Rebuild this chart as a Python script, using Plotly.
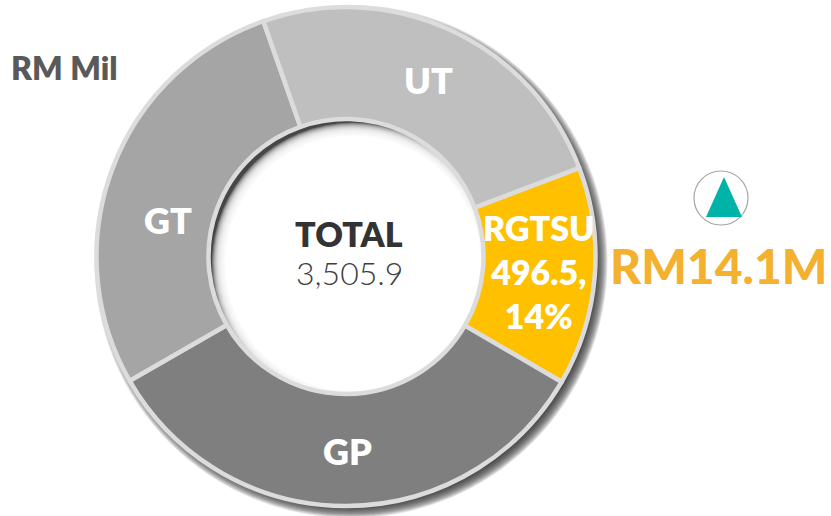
import plotly.graph_objects as go

categories = ["RGTSU", "GP", "GT", "UT"]
values = [496.5, 1168.0, 979.0, 862.4]
colors = ["#FFC000", "#7F7F7F", "#A5A5A5", "#BFBFBF"]
slice_labels = ["RGTSU<br>496.5,<br>14%", "GP", "GT", "UT"]
total_label = "3,505.9"
change_label = "RM14.1M"
unit_label = "RM Mil"

W, H = 831, 516
CX, CY, R, HOLE_R = 346, 256.5, 249.5, 137.5
FONT = "Lato"


def circle(cx, cy, r, fill):
    return dict(type="circle", xref="x", yref="y", x0=cx - r, x1=cx + r, y0=cy - r, y1=cy + r,
                fillcolor=fill, line=dict(width=0), layer="below")


SHADOW = 5
HOLE_SHADOW = 7
BLUR = 6
shapes = []
for k in range(BLUR, -BLUR - 1, -1):
    shapes.append(circle(CX + SHADOW, CY + SHADOW, R + 1 + k, "rgba(40,40,40,0.13)"))
shapes.append(circle(CX, CY, HOLE_R + 1, "rgb(70,70,70)"))
for k in range(BLUR, -BLUR - 1, -1):
    shapes.append(circle(CX + HOLE_SHADOW, CY + HOLE_SHADOW, HOLE_R - 2.5 + k, "rgba(255,255,255,0.25)"))
shapes.append(circle(CX + HOLE_SHADOW, CY + HOLE_SHADOW, HOLE_R - 2.5 - BLUR - 1, "white"))
shapes.append(dict(type="circle", xref="x", yref="y", x0=694, x1=748, y0=171, y1=225,
                   fillcolor="white", line=dict(color="#A6A6A6", width=1.2), layer="above"))
shapes.append(dict(type="path", xref="x", yref="y", path="M724,177 L706,217 L742,217 Z",
                   fillcolor="#00B3A9", line=dict(width=0), layer="above"))

fig = go.Figure(go.Pie(
    labels=categories, values=values, sort=False, direction="clockwise", rotation=69.2,
    hole=HOLE_R / R, marker=dict(colors=colors, line=dict(color="#DCDCDC", width=4.5)),
    textinfo="none", hoverinfo="label+value+percent", showlegend=False,
    domain=dict(x=[(CX - R) / W, (CX + R) / W],
                y=[1 - (CY + R) / H, 1 - (CY - R) / H]),
))


def note(x, y, text, size, color, weight=800, family=FONT):
    return dict(x=x, y=y, xref="x", yref="y", text=text, showarrow=False, align="center",
                font=dict(size=size, color=color, family=family, weight=weight))


annotations = [
    note(428, 80, slice_labels[3], 36, "white"),
    note(168, 220, slice_labels[2], 36, "white"),
    note(347, 451, slice_labels[1], 36, "white"),
    note(539, 271, slice_labels[0], 34, "white"),
    note(349, 233, "TOTAL", 34, "#333333"),
    note(349, 272, total_label, 32, "#404040", weight=300),
    note(64, 67, unit_label, 32, "#595959"),
    note(718, 265, change_label, 48, "#F4B02F", weight=900),
]

fig.update_layout(
    width=W, height=H, margin=dict(l=0, r=0, t=0, b=0),
    paper_bgcolor="white", plot_bgcolor="white",
    xaxis=dict(range=[0, W], visible=False, fixedrange=True),
    yaxis=dict(range=[H, 0], visible=False, fixedrange=True),
    shapes=shapes, annotations=annotations,
)
fig.write_html("out.html", config=dict(displayModeBar=False),
               post_script="document.body.style.margin='0';document.body.style.overflow='hidden';")
